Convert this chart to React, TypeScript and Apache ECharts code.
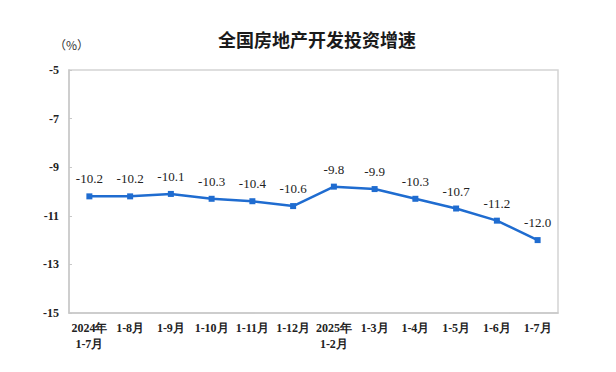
import React, { useEffect, useRef } from "react";
import * as echarts from "echarts";

const title = "全国房地产开发投资增速";
const unitLabel = "（%）";
const categories = [
  "2024年\n1-7月",
  "1-8月",
  "1-9月",
  "1-10月",
  "1-11月",
  "1-12月",
  "2025年\n1-2月",
  "1-3月",
  "1-4月",
  "1-5月",
  "1-6月",
  "1-7月",
];
const growth = [-10.2, -10.2, -10.1, -10.3, -10.4, -10.6, -9.8, -9.9, -10.3, -10.7, -11.2, -12.0];
const yMin = -15;
const yMax = -5;
const yStep = 2;

const serif = "Liberation Serif";

export default function App() {
  const ref = useRef<HTMLDivElement>(null);
  useEffect(() => {
    if (!ref.current) return;
    const chart = echarts.init(ref.current, undefined, { renderer: "svg" });
    chart.setOption({
      animation: false,
      backgroundColor: "#ffffff",
      title: {
        text: title,
        left: 304,
        top: 17,
        textAlign: "center",
        textStyle: {
          fontFamily: "Noto Sans CJK SC",
          fontSize: 18,
          fontWeight: "bold",
          color: "#1a1a1a",
        },
      },
      graphic: [
        {
          type: "text",
          left: 46,
          top: 30,
          style: {
            text: unitLabel,
            font: "12px Noto Sans CJK SC",
            fill: "#333",
          },
        },
      ],
      grid: {
        left: 61,
        right: 50,
        top: 62,
        bottom: 51,
        show: true,
        borderColor: "#d4d4d4",
        borderWidth: 1.5,
      },
      xAxis: {
        type: "category",
        data: categories,
        boundaryGap: true,
        axisLine: { lineStyle: { color: "#c8c8c8", width: 1.5 } },
        axisTick: { inside: true, length: 5, lineStyle: { color: "#c8c8c8" } },
        axisLabel: {
          margin: 7,
          fontFamily: serif,
          fontSize: 12,
          fontWeight: "bold",
          lineHeight: 16,
          color: "#222",
          interval: 0,
        },
      },
      yAxis: {
        type: "value",
        min: 0,
        max: yMax - yMin,
        interval: yStep,
        axisLine: { show: true, lineStyle: { color: "#c8c8c8", width: 1.5 } },
        axisTick: { show: true, inside: true, length: 3, lineStyle: { color: "#c8c8c8" } },
        splitLine: { show: false },
        axisLabel: {
          margin: 10,
          fontFamily: serif,
          fontSize: 12,
          fontWeight: "bold",
          color: "#222",
          formatter: (v: number) => String(v + yMin),
        },
      },
      series: [
        {
          type: "line",
          data: growth.map((v) => v - yMin),
          symbol: "rect",
          symbolSize: 6,
          lineStyle: { color: "#1f6cd0", width: 2.5 },
          itemStyle: { color: "#1f6cd0" },
          label: {
            show: true,
            position: "top",
            distance: 8,
            fontFamily: serif,
            fontSize: 13,
            color: "#222",
            formatter: (p: any) => growth[p.dataIndex].toFixed(1),
          },
        },
      ],
    });
    return () => chart.dispose();
  }, []);
  return <div ref={ref} style={{ width: 600, height: 356 }} />;
}
